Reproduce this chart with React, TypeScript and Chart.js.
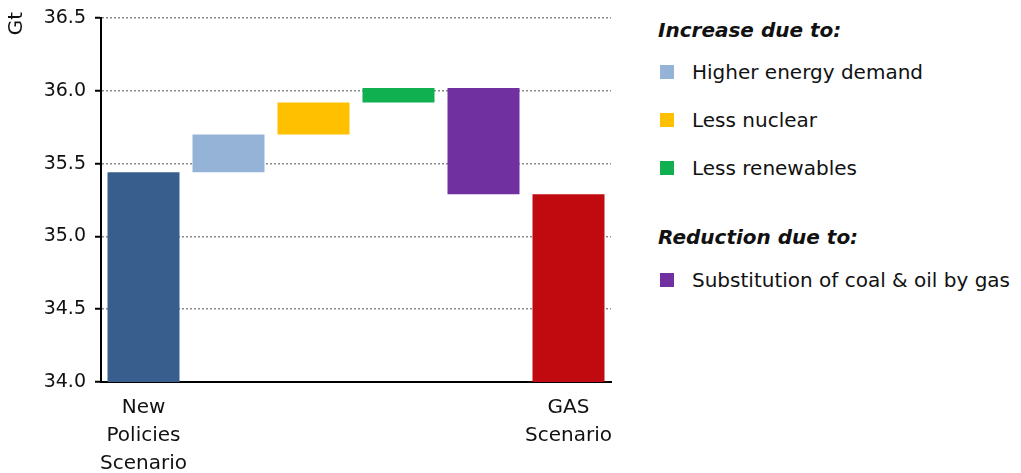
import React, { useEffect, useRef } from 'react';
import { Chart, registerables } from 'chart.js';

Chart.register(...registerables);

// ---- data ----
const categories = [
  'New Policies Scenario',
  'Higher energy demand',
  'Less nuclear',
  'Less renewables',
  'Substitution of coal & oil by gas',
  'GAS Scenario',
];
const barStart = [34.0, 35.44, 35.7, 35.92, 36.02, 34.0];
const barEnd = [35.44, 35.7, 35.92, 36.02, 35.29, 35.29];
const barColors = ['#385E8E', '#95B3D7', '#FFC000', '#10AF4F', '#7030A0', '#C00A10'];
const xTickLabels: (string | string[])[] = [
  ['New', 'Policies', 'Scenario'],
  '',
  '',
  '',
  '',
  ['GAS', 'Scenario'],
];
const yTickValues = [34.0, 34.5, 35.0, 35.5, 36.0, 36.5];
const yUnit = 'Gt';
const increaseHeading = 'Increase due to:';
const increaseIdx = [1, 2, 3];
const reductionHeading = 'Reduction due to:';
const reductionIdx = [4];

const FONT = "'DejaVu Sans', sans-serif";

// draws the unit label ("Gt"), rotated, above-left of the y axis
const unitLabelPlugin = {
  id: 'unitLabel',
  afterDraw(chart: any) {
    const { ctx, chartArea } = chart;
    ctx.save();
    ctx.translate(8.5, chartArea.top + 5.5);
    ctx.rotate(-Math.PI / 2);
    ctx.font = `20px ${FONT}`;
    ctx.fillStyle = '#111';
    ctx.textAlign = 'center';
    ctx.textBaseline = 'middle';
    ctx.fillText(yUnit, 0, 0);
    ctx.restore();
  },
};

function LegendItem({ idx, mt }: { idx: number; mt: number }) {
  return (
    <div style={{ display: 'flex', alignItems: 'center', height: 28, marginTop: mt }}>
      <div style={{ width: 14, height: 14, background: barColors[idx], marginLeft: 2, marginRight: 18 }} />
      <span style={{ fontSize: 20, color: '#111', whiteSpace: 'nowrap' }}>{categories[idx]}</span>
    </div>
  );
}

export default function App() {
  const ref = useRef<HTMLCanvasElement>(null);

  useEffect(() => {
    if (!ref.current) return;
    Chart.defaults.font.family = FONT;
    const chart = new Chart(ref.current, {
      type: 'bar',
      data: {
        labels: categories,
        datasets: [
          {
            data: barStart.map((s, i) => [s, barEnd[i]]) as any,
            backgroundColor: barColors,
            borderWidth: 0,
            barPercentage: 0.847,
            categoryPercentage: 1,
          },
        ],
      },
      options: {
        animation: false,
        responsive: false,
        layout: { padding: { top: 10, right: 17, left: 0, bottom: 0 } },
        plugins: { legend: { display: false }, tooltip: { enabled: false } },
        scales: {
          x: {
            grid: { display: false, drawTicks: false },
            border: { display: true, color: '#000', width: 2 },
            ticks: {
              autoSkip: false,
              maxRotation: 0,
              padding: 12,
              color: '#111',
              font: { size: 20, lineHeight: 1.4 },
              callback: (_v: any, i: number) => xTickLabels[i],
            },
            afterFit: (s: any) => {
              s.height = 91;
            },
          },
          y: {
            min: 34,
            max: 36.5,
            afterBuildTicks: (s: any) => {
              s.ticks = yTickValues.map((v) => ({ value: v }));
            },
            ticks: {
              padding: 9,
              color: '#111',
              font: { size: 19, lineHeight: 1 },
              callback: (v: any) => Number(v).toFixed(1),
            },
            grid: {
              color: '#8a8a8a',
              lineWidth: 1.5,
              tickLength: 6,
              tickColor: '#000',
              tickWidth: 2,
            },
            border: { display: true, color: '#000', width: 2, dash: [2, 2] },
            afterFit: (s: any) => {
              s.width = 93;
              s.paddingTop = 0;
              s.paddingBottom = 0;
            },
          },
        },
      },
      plugins: [unitLabelPlugin],
    });
    return () => chart.destroy();
  }, []);

  return (
    <div style={{ position: 'relative', width: 1005, height: 465, fontFamily: FONT }}>
      <canvas ref={ref} width={620} height={465} style={{ position: 'absolute', left: 0, top: 0 }} />
      <div style={{ position: 'absolute', left: 650, top: 0 }}>
        <div style={{ height: 28, lineHeight: '28px', marginTop: 8, fontSize: 20, fontWeight: 'bold', fontStyle: 'italic', color: '#111' }}>
          {increaseHeading}
        </div>
        {increaseIdx.map((idx, k) => (
          <LegendItem key={idx} idx={idx} mt={k === 0 ? 14 : 20} />
        ))}
        <div style={{ height: 28, lineHeight: '28px', marginTop: 41, fontSize: 20, fontWeight: 'bold', fontStyle: 'italic', color: '#111' }}>
          {reductionHeading}
        </div>
        {reductionIdx.map((idx) => (
          <LegendItem key={idx} idx={idx} mt={15} />
        ))}
      </div>
    </div>
  );
}
